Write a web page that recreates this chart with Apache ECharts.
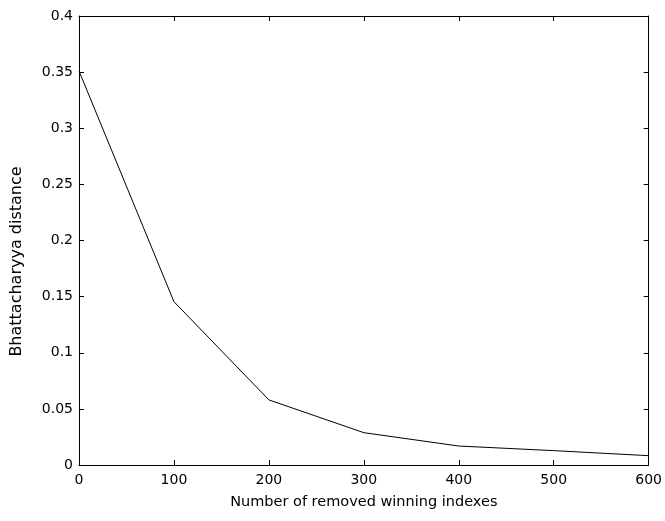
<!DOCTYPE html>
<html>
<head>
<meta charset="utf-8">
<script src="https://cdn.jsdelivr.net/npm/echarts@6/dist/echarts.min.js"></script>
<style>html,body{margin:0;padding:0;background:#fff;}#c{width:665px;height:521px;}</style>
</head>
<body>
<div id="c"></div>
<script>
var removedIndexes = [0, 100, 200, 300, 400, 500, 600];
var bhattacharyya = [0.351, 0.1455, 0.058, 0.0288, 0.0169, 0.0128, 0.0083];
var xTicks = [0, 100, 200, 300, 400, 500, 600];
var yTicks = [0, 0.05, 0.1, 0.15, 0.2, 0.25, 0.3, 0.35, 0.4];
var xName = 'Number of removed winning indexes';
var yName = 'Bhattacharyya distance';

var chart = echarts.init(document.getElementById('c'));
var font = 'DejaVu Sans, Liberation Sans, Arial, sans-serif';
var lineStyle = {color: '#000', width: 1};
function axisBase(extra) {
  return Object.assign({
    axisLine: {show: true, onZero: false, lineStyle: lineStyle},
    axisTick: {show: true, inside: true, length: 5, lineStyle: lineStyle},
    splitLine: {show: false}
  }, extra);
}
chart.setOption({
  animation: false,
  backgroundColor: '#fff',
  grid: {left: 79, top: 16, right: 16, bottom: 56, containLabel: false},
  xAxis: [
    axisBase({type: 'value', position: 'bottom', min: xTicks[0], max: xTicks[xTicks.length-1], interval: 100,
      name: xName, nameLocation: 'middle', nameGap: 30,
      nameTextStyle: {fontFamily: font, fontSize: 14.5, color: '#000'},
      axisLabel: {fontFamily: font, fontSize: 14, color: '#000', margin: 8}}),
    axisBase({type: 'value', position: 'top', min: 0, max: 600, interval: 100, axisLabel: {show: false}})
  ],
  yAxis: [
    axisBase({type: 'value', position: 'left', min: yTicks[0], max: yTicks[yTicks.length-1], interval: 0.05,
      name: yName, nameLocation: 'middle', nameGap: 54,
      nameTextStyle: {fontFamily: font, fontSize: 16, color: '#000', padding: [0, 42, 0, 0]},
      axisLabel: {fontFamily: font, fontSize: 14, color: '#000', margin: 6,
        formatter: function (v) { return String(Math.round(v * 100) / 100); }}}),
    axisBase({type: 'value', position: 'right', min: 0, max: 0.4, interval: 0.05, axisLabel: {show: false}})
  ],
  series: [{
    type: 'line',
    data: removedIndexes.map(function (x, i) { return [x, bhattacharyya[i]]; }),
    showSymbol: false,
    lineStyle: {color: '#000', width: 1},
    itemStyle: {color: '#000'}
  }]
});
</script>
</body>
</html>
